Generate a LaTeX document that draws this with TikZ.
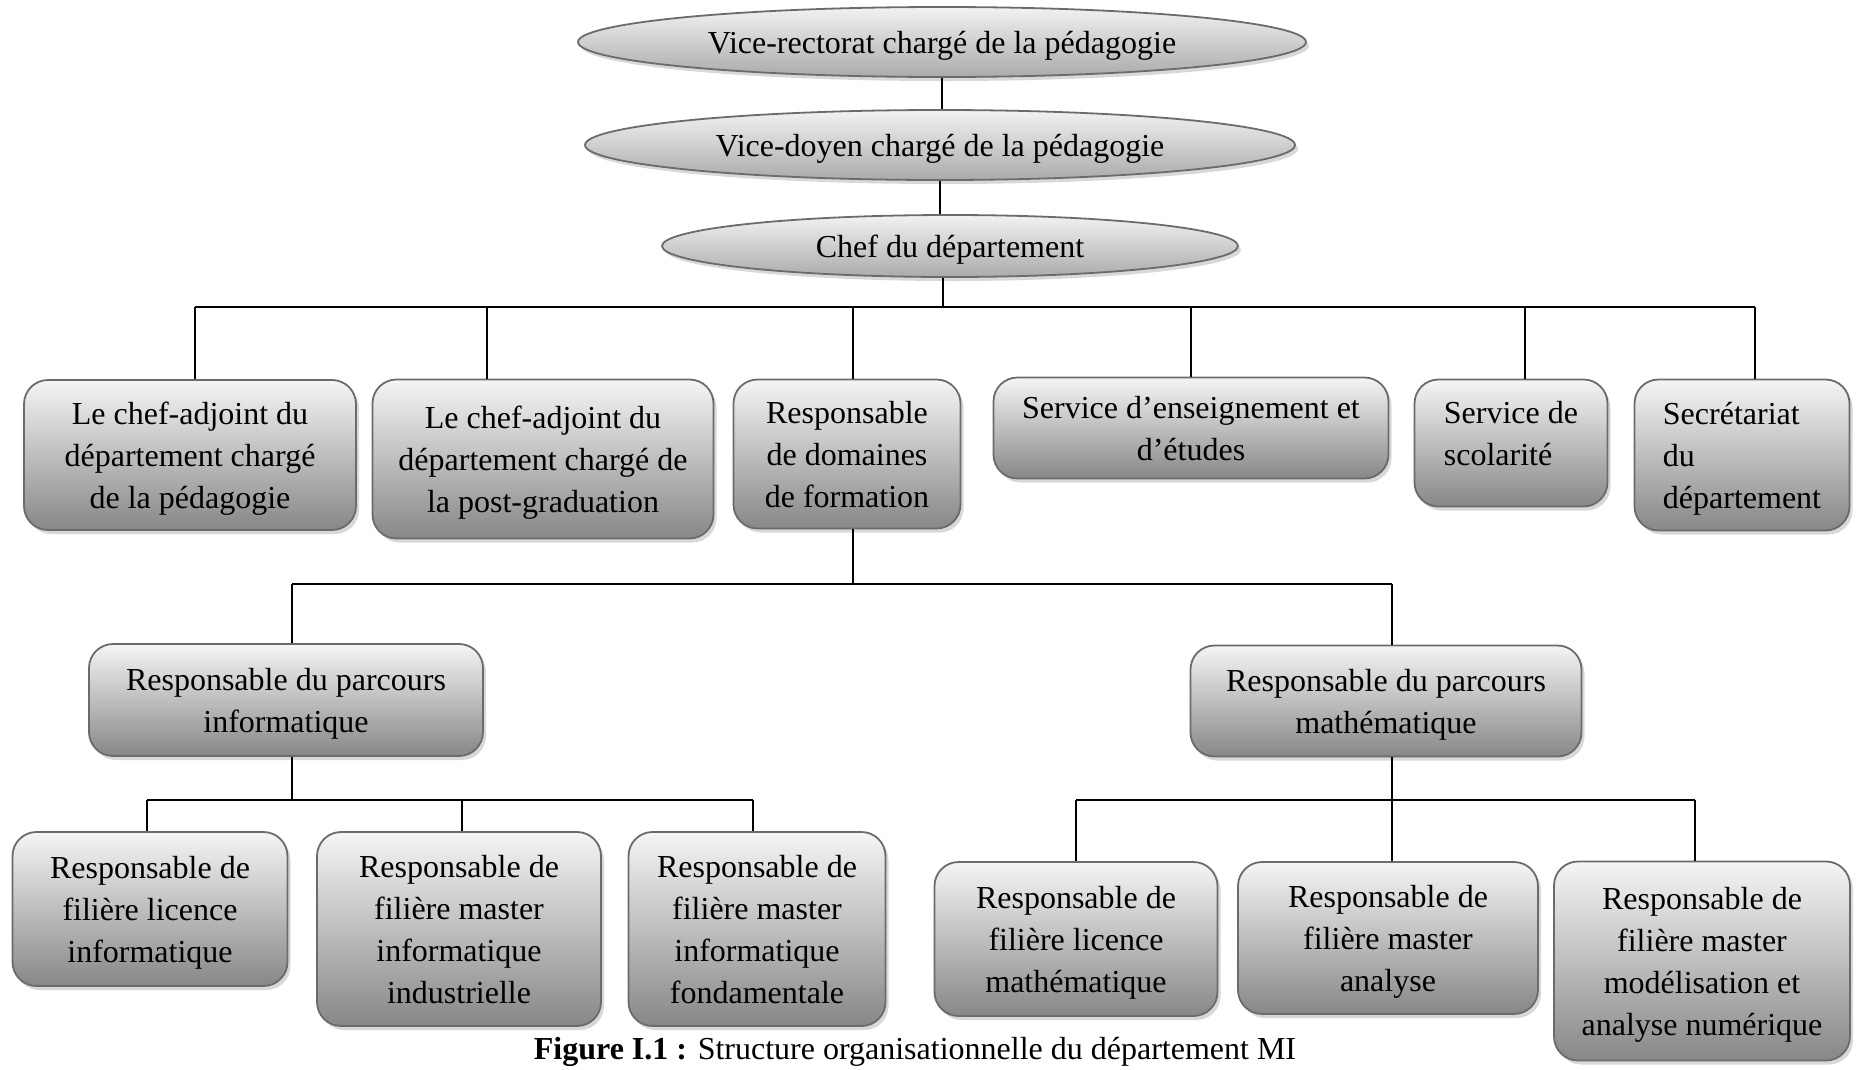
\documentclass[tikz,border=0pt]{standalone}
\usepackage{fontspec}
\setmainfont{Liberation Serif}
\usetikzlibrary{shapes.geometric,shadows}
\begin{document}
\begin{tikzpicture}[x=1pt,y=-1pt,
  every node/.style={font=\fontsize{32}{42}\selectfont, inner sep=0pt},
  post/.style={ellipse, draw=black!58, line width=1.8pt, text depth=0pt,
    top color=black!5, bottom color=black!33,
    drop shadow={shadow xshift=3pt, shadow yshift=-4pt, fill=black!30}},
  unit/.style={rectangle, rounded corners=24pt, draw=black!58, line width=1.8pt,
    top color=black!4, bottom color=black!47, align=center, text depth=-4pt,
    drop shadow={shadow xshift=3pt, shadow yshift=-4pt, fill=black!30}},
  link/.style={draw=black, line width=1.6pt}
]
\useasboundingbox (0,0) rectangle (1856,1069);

% hierarchy head
\node[post, minimum width=728, minimum height=70] (vr) at (942,42) {Vice-rectorat chargé de la pédagogie};
\node[post, minimum width=710, minimum height=70] (vd) at (940,145) {Vice-doyen chargé de la pédagogie};
\node[post, minimum width=576, minimum height=62] (cd) at (950,246) {Chef du département};

% department units
\node[unit, minimum width=332, minimum height=150] (b1) at (190,455) {Le chef-adjoint du\\département chargé\\de la pédagogie};
\node[unit, minimum width=341, minimum height=159] (b2) at (543,459) {Le chef-adjoint du\\département chargé de\\la post-graduation};
\node[unit, minimum width=227, minimum height=149] (b3) at (847,454) {Responsable\\de domaines\\de formation};
\node[unit, minimum width=395, minimum height=101] (b4) at (1191,428) {Service d’enseignement et\\d’études};
\node[unit, minimum width=193, minimum height=127, align=left, text depth=20pt] (b5) at (1511,443) {Service de\\scolarité};
\node[unit, minimum width=215, minimum height=151, align=left] (b6) at (1742,455) {Secrétariat\\du\\département};

% study paths
\node[unit, minimum width=394, minimum height=112] (p1) at (286,700) {Responsable du parcours\\informatique};
\node[unit, minimum width=391, minimum height=111] (p2) at (1386,701) {Responsable du parcours\\mathématique};

% programmes
\node[unit, minimum width=275, minimum height=154] (l1) at (150,909) {Responsable de\\filière licence\\informatique};
\node[unit, minimum width=284, minimum height=194] (l2) at (459,929) {Responsable de\\filière master\\informatique\\industrielle};
\node[unit, minimum width=257, minimum height=194] (l3) at (757,929) {Responsable de\\filière master\\informatique\\fondamentale};
\node[unit, minimum width=283, minimum height=154] (m1) at (1076,939) {Responsable de\\filière licence\\mathématique};
\node[unit, minimum width=300, minimum height=152] (m2) at (1388,938) {Responsable de\\filière master\\analyse};
\node[unit, minimum width=296, minimum height=199] (m3) at (1702,961) {Responsable de\\filière master\\modélisation et\\analyse numérique};

\node (cap) at (915,1052) {\textbf{Figure I.1 :} Structure organisationnelle du département MI};

% connectors
\draw[link] (vr.south) -- (vr.south |- vd.north);
\draw[link] (vd.south) -- (vd.south |- cd.north);

\coordinate (t0) at (943,307);
\coordinate (h1) at (195,307);
\coordinate (h2) at (487,307);
\coordinate (h3) at (853,307);
\coordinate (h4) at (1191,307);
\coordinate (h5) at (1525,307);
\coordinate (h6) at (1755,307);
\draw[link] (t0 |- cd.south) -- (t0);
\draw[link] (h1) -- (h6);
\foreach \i in {1,...,6} \draw[link] (h\i) -- (h\i |- b\i.north);

\coordinate (k0) at (853,584);
\coordinate (k1) at (292,584);
\coordinate (k2) at (1392,584);
\draw[link] (k0 |- b3.south) -- (k0);
\draw[link] (k1) -- (k2);
\draw[link] (k1) -- (k1 |- p1.north);
\draw[link] (k2) -- (k2 |- p2.north);

\coordinate (ia) at (292,800);
\coordinate (i1) at (147,800);
\coordinate (i2) at (462,800);
\coordinate (i3) at (753,800);
\draw[link] (ia |- p1.south) -- (ia);
\draw[link] (i1) -- (i3);
\draw[link] (i1) -- (i1 |- l1.north);
\draw[link] (i2) -- (i2 |- l2.north);
\draw[link] (i3) -- (i3 |- l3.north);

\coordinate (j1) at (1076,800);
\coordinate (j2) at (1392,800);
\coordinate (j3) at (1695,800);
\draw[link] (j2 |- p2.south) -- (j2);
\draw[link] (j1) -- (j3);
\draw[link] (j1) -- (j1 |- m1.north);
\draw[link] (j2) -- (j2 |- m2.north);
\draw[link] (j3) -- (j3 |- m3.north);
\end{tikzpicture}
\end{document}
